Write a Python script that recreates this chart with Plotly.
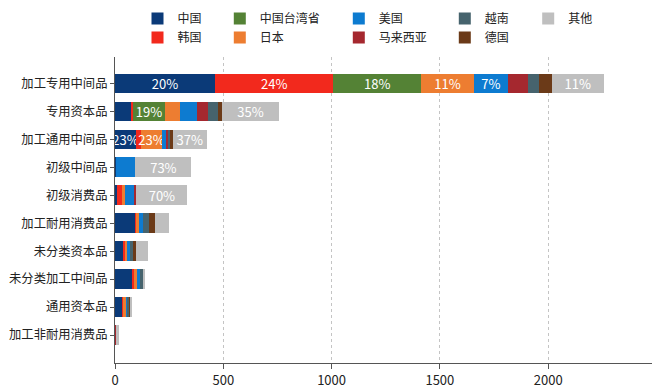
import plotly.graph_objects as go

categories = ["加工专用中间品", "专用资本品", "加工通用中间品", "初级中间品", "初级消费品",
              "加工耐用消费品", "未分类资本品", "未分类加工中间品", "通用资本品", "加工非耐用消费品"]

series_names = ["中国", "韩国", "中国台湾省", "日本", "美国", "马来西亚", "越南", "德国", "其他"]
series_colors = ["#0b3a78", "#f2291d", "#548235", "#ed7d31", "#0d7bd0", "#a5282f", "#46636d", "#6b3a18", "#bfbfbf"]

china    = [462, 72, 97, 5, 8, 93, 41, 79, 34, 2]
korea    = [546, 12, 23, 0, 26, 3, 3, 9, 5, 0]
taiwan   = [405, 146, 0, 0, 0, 0, 0, 0, 0, 0]
japan    = [245, 69, 97, 0, 12, 17, 12, 15, 12, 0]
usa      = [155, 80, 20, 89, 41, 18, 15, 12, 6, 0]
malaysia = [92, 51, 9, 0, 12, 0, 0, 0, 0, 4]
vietnam  = [54, 46, 9, 0, 0, 26, 12, 12, 9, 0]
germany  = [58, 18, 12, 0, 0, 28, 15, 0, 3, 0]
other    = [239, 263, 157, 259, 235, 65, 54, 13, 10, 12]

series_values = [china, korea, taiwan, japan, usa, malaysia, vietnam, germany, other]
legend_ids = ["legend", "legend", "legend2", "legend2", "legend3", "legend3", "legend4", "legend4", "legend5"]

x_ticks = [0, 500, 1000, 1500, 2000]
label_threshold = 96

totals = [sum(col) for col in zip(*series_values)]

FONT = "Noto Sans CJK SC, Noto Sans, sans-serif"

fig = go.Figure()
for name, color, vals, lg in zip(series_names, series_colors, series_values, legend_ids):
    texts = [f"{v / t * 100:.0f}%" if v >= label_threshold else "" for v, t in zip(vals, totals)]
    fig.add_trace(go.Bar(
        y=categories, x=vals, orientation="h", name=name,
        marker=dict(color=color, line=dict(width=0)),
        text=texts, textposition="inside", insidetextanchor="middle",
        constraintext="none", textangle=0,
        textfont=dict(color="white", size=13, family=FONT),
        legend=lg,
    ))

# page body has an 8px margin; figure coordinates below are relative to the figure
FIG_W, FIG_H = 652, 382
L, R, T, B = 107, 645, 49, 355
W = R - L
H = B - T

def px_x(px):
    return (px - L) / W

def px_y(py):
    return (B - py) / H

legend_centers = [150.5, 232.8, 351.8, 457.8, 541.2]
legend_common = dict(orientation="v", xanchor="left", yanchor="top", traceorder="normal",
                     font=dict(size=12, family=FONT, color="#222"),
                     bgcolor="rgba(0,0,0,0)", borderwidth=0, tracegroupgap=0)
legend_layout = {}
for i, c in enumerate(legend_centers):
    key = "legend" if i == 0 else f"legend{i+1}"
    legend_layout[key] = dict(x=px_x(c - 21), y=px_y(-4), **legend_common)

fig.update_layout(
    width=FIG_W, height=FIG_H,
    margin=dict(l=L, r=FIG_W - R, t=T, b=FIG_H - B, autoexpand=False),
    barmode="stack", bargap=0.29,
    plot_bgcolor="white", paper_bgcolor="white",
    font=dict(family=FONT, size=13, color="#222"),
    showlegend=True,
    xaxis=dict(range=[0, 2484], tickvals=x_ticks, ticktext=[str(v) for v in x_ticks],
               showgrid=True, gridcolor="#c4c4c4", griddash="dot", gridwidth=1,
               zeroline=False, showline=True, linecolor="#555", linewidth=1.2,
               ticks="outside", ticklen=5, tickcolor="#555",
               tickfont=dict(size=13, family=FONT, color="#222"), automargin=False),
    yaxis=dict(type="category", categoryorder="array", categoryarray=categories,
               range=[10.0, -0.95], showgrid=False, zeroline=False,
               showline=True, linecolor="#555", linewidth=1.2,
               ticks="outside", ticklen=4, tickcolor="#555",
               tickfont=dict(size=12.3, family=FONT, color="#222"), automargin=False),
    **legend_layout,
)

fig.write_html("out.html")
